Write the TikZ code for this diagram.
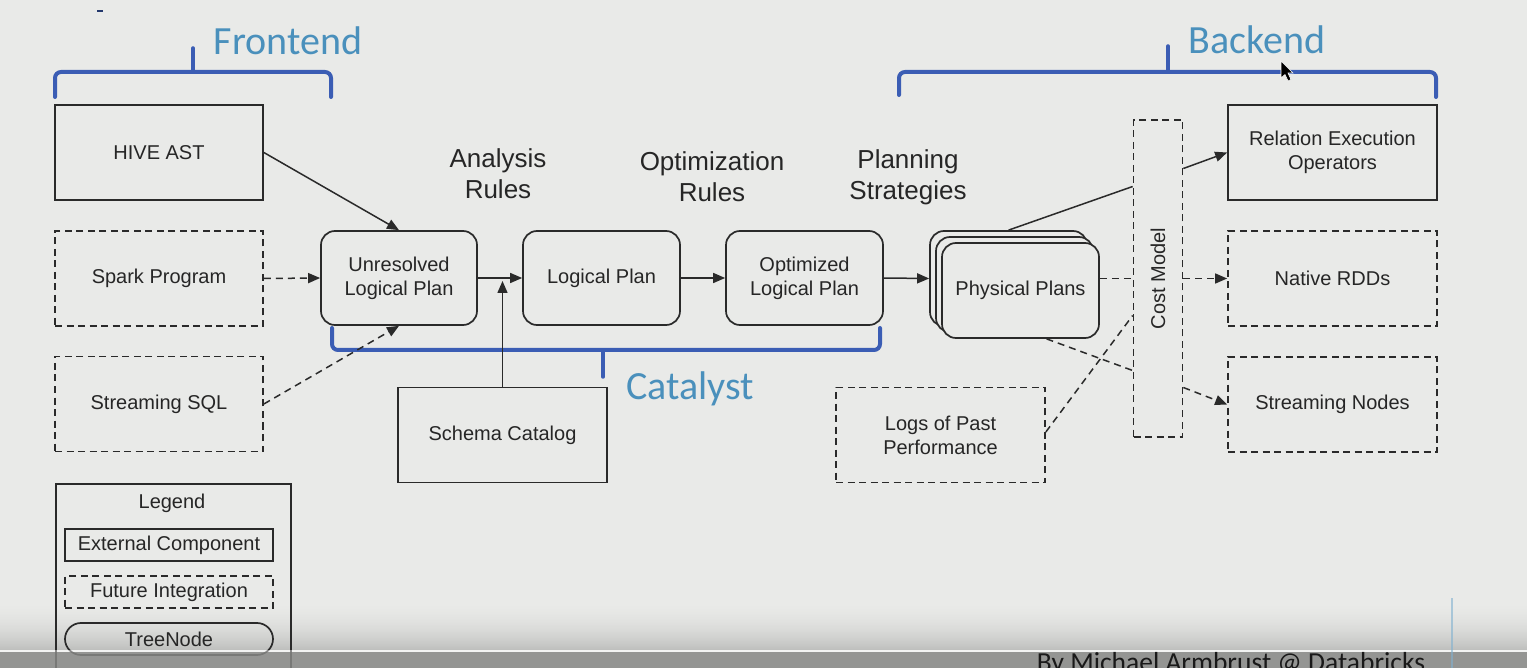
\documentclass[tikz,border=0pt]{standalone}
\usepackage{fontspec}
\setmainfont{Liberation Sans}
\newfontfamily\calib{Carlito}
\usetikzlibrary{arrows.meta,calc}
\definecolor{bgc}{HTML}{E9EAE8}
\definecolor{shadec}{HTML}{BFC0BE}
\definecolor{linec}{HTML}{2A2A2A}
\definecolor{txtc}{HTML}{262626}
\definecolor{bracec}{HTML}{3B5DB4}
\definecolor{labc}{HTML}{4A90BC}
\definecolor{bandc}{HTML}{868785}
\newcommand\boxfnt{\fontsize{20}{24}\selectfont}
\begin{document}
\begin{tikzpicture}[x=1pt,y=-1pt,
  box/.style={draw=linec, line width=1.7pt, minimum width=208pt, minimum height=95pt, align=center, font=\boxfnt, text=txtc, inner sep=0pt, fill=bgc},
  fut/.style={box, dash pattern=on 7pt off 4.5pt},
  tree/.style={box, rounded corners=14pt},
  conn/.style={draw=linec, line width=1.5pt},
  dconn/.style={conn, dash pattern=on 7pt off 5pt},
  arr/.style={conn, -{Triangle[length=12pt,width=10pt]}},
  darr/.style={dconn, -{Triangle[length=12pt,width=10pt]}},
  brace/.style={draw=bracec, line width=4pt, line cap=round, line join=round, rounded corners=6pt},
  tipst/.style={draw=bracec, line width=3.5pt, line cap=round},
  blab/.style={font=\calib\fontsize{40}{44}\selectfont, text=labc, inner sep=0pt},
  title/.style={font=\fontsize{26}{31}\selectfont, text=txtc, align=center, inner sep=0pt}
]
\useasboundingbox (0,0) rectangle (1527,668);
\clip (0,0) rectangle (1527,668);
\fill[bgc] (0,0) rectangle (1527,668);
% bottom gradient (under the legend), built from thin strips
\foreach \i in {0,...,51}{
  \pgfmathtruncatemacro{\p}{100*(\i/51)*(\i/51)}
  \fill[shadec!\p!bgc] (0,{598+\i}) rectangle (1527,{599.2+\i});
}

% small dash top-left
\draw[draw=bracec!60!black, line width=2pt] (97,11) -- (103,11);

% braces
\draw[brace] (55,97) -- (55,72) -- (331,72) -- (331,97);
\draw[tipst] (193,72) -- (193,48);
\node[blab] (lfront) at (288,41) {Frontend};

\draw[brace] (899,95) -- (899,72) -- (1436,72) -- (1436,97);
\draw[tipst] (1168,72) -- (1168,46);
\node[blab] (lback) at (1257,40) {Backend};

\draw[brace] (332,328) -- (332,350) -- (880,350) -- (880,328);
\draw[tipst] (603,350) -- (603,377);
\node[blab] (lcat) at (690,389) {Catalyst};

% titles
\node[title] (tana) at (498,174) {Analysis\\Rules};
\node[title] (topt) at (712,177) {Optimization\\Rules};
\node[title] (tplan) at (908,177) {Planning\\Strategies};

% left column
\node[box] (hive) at (159,152.5) {HIVE AST};
\node[fut] (spark) at (159,278.5) {Spark Program};
\node[fut] (ssql) at (159,404) {Streaming SQL};

% catalyst plans
\node[tree, minimum width=156pt, minimum height=94pt] (unres) at (399,278) {Unresolved\\Logical Plan};
\node[tree, minimum width=157pt, minimum height=94pt] (lplan) at (601.5,278) {Logical Plan};
\node[tree, minimum width=157pt, minimum height=94pt] (opt) at (804.5,278) {Optimized\\Logical Plan};

% physical plans stack
\node[tree, minimum width=157pt, minimum height=95pt] (phys3) at (1008.5,278.5) {};
\node[tree, minimum width=157pt, minimum height=95pt] (phys2) at (1014.5,284.5) {};
\node[tree, minimum width=157pt, minimum height=95pt] (phys1) at (1020.5,290.5) {Physical Plans};

% cost model
\node[fut, minimum width=49pt, minimum height=317pt] (cost) at (1158,278.5) {};
\node[font=\boxfnt, text=txtc, rotate=90, inner sep=0pt] (costl) at (cost.center) {Cost Model};

% right column
\node[box, minimum width=209pt] (rel) at (1332.5,152.5) {Relation Execution\\Operators};
\node[fut, minimum width=209pt] (native) at (1332.5,278.5) {Native RDDs};
\node[fut, minimum width=209pt] (snodes) at (1332.5,404.5) {Streaming Nodes};

% bottom boxes
\node[box, minimum width=209pt] (schema) at (502.5,435) {Schema Catalog};
\node[fut, minimum width=209pt] (logs) at (940.5,435) {Logs of Past\\Performance};

% connectors left
\draw[arr] (hive.east) -- (unres.north);
\draw[darr] (spark.east) -- (unres.west);
\draw[darr] (ssql.east) -- (unres.south);
\draw[arr] (unres.east) -- (lplan.west);
\draw[arr] (schema.north) -- ($(schema.north |- unres.east)+(0,3)$);
\draw[arr] (lplan.east) -- (opt.west);
\draw[arr] (opt.east) -- (phys3.west);

% connectors right
\draw[conn] (phys3.north) -- ($(cost.west)+(0,-92)$);
\draw[arr] ($(cost.east)+(0,-110)$) -- (rel.west);
\draw[dconn] (phys1.east |- cost.west) -- (cost.west);
\draw[darr] (cost.east) -- (native.west);
\draw[dconn] ($(phys1.south)+(26,0)$) -- ($(cost.west)+(0,92)$);
\draw[darr] ($(cost.east)+(0,109)$) -- (snodes.west);
\draw[dconn] ($(logs.east)+(0,-3)$) -- ($(cost.west)+(0,37)$);

% legend
\node[draw=linec, line width=1.7pt, minimum width=235pt, minimum height=210pt, anchor=north west, inner sep=0pt] (legend) at (55,483) {};
\node[font=\boxfnt, text=txtc, inner sep=0pt] (legt) at (172,503) {Legend};
\node[box, fill=none, minimum width=208pt, minimum height=32pt] (lext) at (169,545) {External Component};
\node[fut, fill=none, minimum width=208pt, minimum height=32pt] (lfut) at (169,592) {Future Integration};
\node[box, fill=none, rounded corners=16pt, minimum width=208pt, minimum height=32pt] (ltree) at (169,639) {TreeNode};

% cursor
\filldraw[fill=black, draw=white, line width=0.6pt] (1281,61) -- (1281,78) -- (1285,74.5) -- (1288,81) -- (1291,79.5) -- (1288,73) -- (1293,73) -- cycle;

% bottom band
\fill[white, opacity=0.45] (0,650) rectangle (1527,652);
\fill[bandc, opacity=0.85] (0,652) rectangle (1527,668);
\draw[color=labc!70, line width=1.5pt, opacity=0.6] (1452,598) -- (1452,668);
\node[font=\calib\fontsize{27.5}{30}\selectfont, text=black!90, anchor=base, inner sep=0pt] (byline) at (1231,671) {By Michael Armbrust @ Databricks};
\end{tikzpicture}
\end{document}
